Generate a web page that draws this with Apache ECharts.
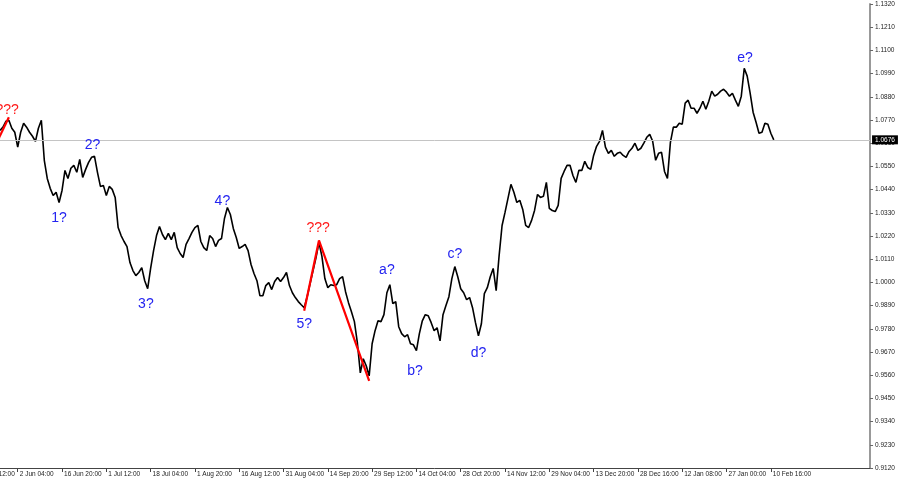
<!DOCTYPE html>
<html><head><meta charset="utf-8">
<script src="https://cdn.jsdelivr.net/npm/echarts@6/dist/echarts.min.js"></script>
<style>html,body{margin:0;padding:0;background:#fff}#c{width:900px;height:485px}</style>
</head><body><div id="c"></div>
<script>
// EUR/USD price path, one value per bar
const prices = [
1.0721,1.0736,1.0764,1.0769,1.0731,1.0712,1.0641,1.0712,1.0755,1.0736,
1.0712,1.0693,1.0669,1.0731,1.0769,1.0579,1.0493,1.0446,1.0412,1.0427,
1.0379,1.0436,1.0531,1.0493,1.0541,1.0555,1.0522,1.0583,1.0498,1.0536,
1.0569,1.0593,1.0598,1.0522,1.0455,1.0460,1.0412,1.0455,1.0441,1.0403,
1.0260,1.0222,1.0194,1.0170,1.0094,1.0056,1.0032,1.0047,1.0070,1.0008,
0.9970,1.0066,1.0151,1.0222,1.0265,1.0227,1.0203,1.0232,1.0203,1.0237,
1.0165,1.0137,1.0118,1.0180,1.0208,1.0237,1.0260,1.0270,1.0194,1.0165,
1.0151,1.0222,1.0208,1.0170,1.0199,1.0208,1.0303,1.0355,1.0322,1.0256,
1.0213,1.0161,1.0170,1.0180,1.0151,1.0085,1.0042,1.0008,0.9937,0.9937,
0.9985,0.9999,0.9966,1.0004,1.0023,1.0004,1.0023,1.0047,0.9985,0.9951,
0.9928,0.9909,0.9894,0.9880,0.9932,0.9994,1.0056,1.0118,1.0189,1.0123,
1.0018,0.9975,0.9989,0.9985,0.9989,1.0018,1.0027,0.9956,0.9904,0.9861,
0.9814,0.9714,0.9571,0.9638,0.9605,0.9557,0.9709,0.9771,0.9818,0.9814,
0.9847,0.9951,0.9989,0.9899,0.9909,0.9790,0.9757,0.9742,0.9752,0.9709,
0.9704,0.9676,0.9757,0.9818,0.9847,0.9842,0.9809,0.9771,0.9785,0.9723,
0.9847,0.9890,0.9932,1.0018,1.0075,1.0027,0.9970,0.9951,0.9918,0.9928,
0.9880,0.9809,0.9747,0.9804,0.9947,0.9975,1.0027,1.0066,0.9961,1.0127,
1.0270,1.0332,1.0398,1.0465,1.0427,1.0379,1.0389,1.0346,1.0270,1.0260,
1.0294,1.0341,1.0417,1.0403,1.0408,1.0474,1.0351,1.0341,1.0336,1.0365,
1.0493,1.0526,1.0555,1.0555,1.0507,1.0474,1.0531,1.0531,1.0574,1.0545,
1.0536,1.0602,1.0645,1.0669,1.0721,1.0641,1.0612,1.0626,1.0598,1.0612,
1.0617,1.0602,1.0593,1.0621,1.0636,1.0660,1.0626,1.0636,1.0660,1.0688,
1.0702,1.0669,1.0579,1.0612,1.0617,1.0526,1.0493,1.0664,1.0736,1.0736,
1.0755,1.0750,1.0850,1.0864,1.0826,1.0826,1.0802,1.0826,1.0859,1.0821,
1.0859,1.0907,1.0883,1.0892,1.0907,1.0916,1.0902,1.0883,1.0897,1.0864,
1.0835,1.0883,1.1015,1.0978,1.0897,1.0807,1.0759,1.0707,1.0712,1.0755,
1.0750,1.0707,1.0676
];

// time-axis labels (one every 15 bars, first one sits 9 bars before the first visible bar)
const xTickLabels = ['18 May 12:00','2 Jun 04:00','16 Jun 20:00','1 Jul 12:00','18 Jul 04:00',
  '1 Aug 20:00','16 Aug 12:00','31 Aug 04:00','14 Sep 20:00','29 Sep 12:00','14 Oct 04:00',
  '28 Oct 20:00','14 Nov 12:00','29 Nov 04:00','13 Dec 20:00','28 Dec 16:00','12 Jan 08:00',
  '27 Jan 00:00','10 Feb 16:00'];
const firstLabelBar = -9;
const barsPerLabel = 15;

// price-axis labels
const yTicks = [0.9120,0.9230,0.9340,0.9450,0.9560,0.9670,0.9780,0.9890,1.0000,1.0110,
  1.0220,1.0330,1.0440,1.0550,1.0660,1.0770,1.0880,1.0990,1.1100,1.1210,1.1320];

// red hand-drawn lines (bar index, price)
const redLineABars = [-3, 3];
const redLineAPrices = [1.0607, 1.0783];
const redLineBBars = [103, 108, 125];
const redLineBPrices = [0.9866, 1.0199, 0.9533];

// wave annotations (bar index, price, text)
const waveTexts  = ['???','1?','2?','3?','4?','5?','???','a?','b?','c?','d?','e?'];
const waveBars   = [2.4, 20, 31.3, 49.4, 75.3, 103, 107.7, 131, 140.5, 154, 162, 252.3];
const wavePrices = [1.0816, 1.0303, 1.0650, 0.9899, 1.0384, 0.9804, 1.0256, 1.0056, 0.9581, 1.0132, 0.9666, 1.1063];

const xTickBars = xTickLabels.map((_, k) => firstLabelBar + k * barsPerLabel);
const lastPrice = prices[prices.length - 1];
const AX_FONT = 'Liberation Sans, Arial, sans-serif';
const X_MIN = firstLabelBar, X_MAX = 294.6;

const chart = echarts.init(document.getElementById('c'), null, {renderer: 'canvas'});
chart.setOption({
  animation: false,
  backgroundColor: '#ffffff',
  grid: {left: -26.58, right: 29.95, top: 4, bottom: 17, containLabel: false, outerBoundsMode: 'none'},
  xAxis: {
    type: 'value', min: X_MIN, max: X_MAX,
    splitLine: {show: false},
    axisLine: {show: true, onZero: false, lineStyle: {color: '#444', width: 1}},
    axisTick: {show: true, inside: false, length: 4, customValues: xTickBars, lineStyle: {color: '#444'}},
    axisLabel: {
      show: true, customValues: xTickBars, align: 'left', margin: 3, padding: [0, 0, 0, 2],
      fontSize: 6.5, fontFamily: AX_FONT, color: '#222',
      formatter: v => xTickLabels[Math.round((v - firstLabelBar) / barsPerLabel)] || ''
    }
  },
  yAxis: {
    type: 'value', position: 'right', min: 0.9120, max: 1.1320,
    splitLine: {show: false},
    axisLine: {show: true, onZero: false, lineStyle: {color: '#999', width: 2}},
    axisTick: {show: true, inside: false, length: 3, customValues: yTicks, lineStyle: {color: '#666'}},
    axisLabel: {
      show: true, customValues: yTicks, margin: 5,
      fontSize: 6.5, fontFamily: AX_FONT, color: '#222',
      formatter: v => v.toFixed(4)
    }
  },
  series: [
    {
      type: 'line', name: 'price', data: prices.map((p, i) => [i, p]),
      showSymbol: false, symbol: 'none',
      lineStyle: {color: '#000', width: 1.6}, z: 3,
      markLine: {
        silent: true, symbol: ['none', 'none'],
        lineStyle: {color: '#c4c4c4', width: 1, type: 'solid'},
        label: {
          show: true, position: 'end', distance: 2, formatter: lastPrice.toFixed(4),
          backgroundColor: '#000', color: '#fff', fontSize: 6.5, fontFamily: AX_FONT, padding: [1, 3]
        },
        data: [[{coord: [X_MIN, lastPrice]}, {coord: [X_MAX, lastPrice]}]]
      }
    },
    {
      type: 'line', name: 'redA', data: redLineABars.map((b, i) => [b, redLineAPrices[i]]),
      showSymbol: false, symbol: 'none', lineStyle: {color: '#ff0000', width: 2.2}, z: 4
    },
    {
      type: 'line', name: 'redB', data: redLineBBars.map((b, i) => [b, redLineBPrices[i]]),
      showSymbol: false, symbol: 'none', lineStyle: {color: '#ff0000', width: 2.2}, z: 4
    },
    {
      type: 'scatter', name: 'waves',
      data: waveBars.map((b, i) => ({
        value: [b, wavePrices[i]],
        label: {formatter: waveTexts[i], color: waveTexts[i] === '???' ? '#ff1a1a' : '#2424f0'}
      })),
      symbolSize: 1, itemStyle: {color: 'rgba(0,0,0,0)', opacity: 1}, z: 5,
      label: {show: true, position: 'inside', opacity: 1, fontSize: 14, fontFamily: 'Liberation Sans, Arial, sans-serif'}
    }
  ]
});
</script>
</body></html>
